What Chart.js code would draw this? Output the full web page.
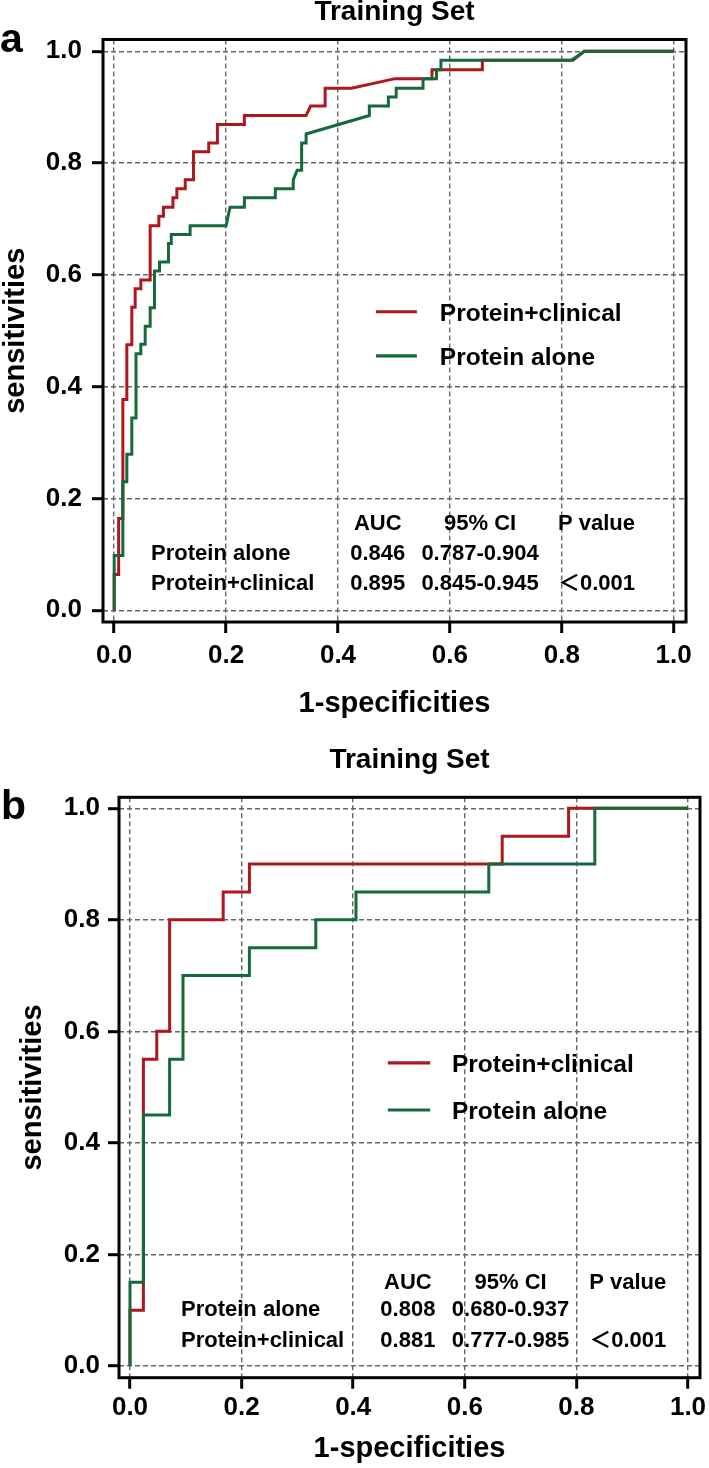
<!DOCTYPE html>
<html>
<head>
<meta charset="utf-8">
<script src="https://cdn.jsdelivr.net/npm/chart.js@4.4.1/dist/chart.umd.min.js"></script>
<style>
  html, body { margin: 0; padding: 0; background: #ffffff; }
  #wrap { position: relative; width: 709px; height: 1468px; overflow: hidden; }
  canvas { position: absolute; left: 0; display: block; }
</style>
</head>
<body>
<div id="wrap">
  <canvas id="chartA" width="709" height="735" style="top:0px"></canvas>
  <canvas id="chartB" width="709" height="733" style="top:735px"></canvas>
</div>
<script>
// ---------------- DATA ----------------
const seriesNames = ['Protein+clinical', 'Protein alone'];
const chartTitle = 'Training Set';
const xAxisTitle = '1-specificities';
const yAxisTitle = 'sensitivities';
const xTickValues = [0, 0.2, 0.4, 0.6, 0.8, 1.0];
const xTickLabels = ['0.0', '0.2', '0.4', '0.6', '0.8', '1.0'];
const yTickValues = [0, 0.2, 0.4, 0.6, 0.8, 1.0];
const yTickLabels = ['0.0', '0.2', '0.4', '0.6', '0.8', '1.0'];

// Panel a: Protein+clinical (1-specificity, sensitivity)
const aClinX = [0, 0, 0.008, 0.008, 0.0155, 0.0155, 0.0226, 0.0226, 0.0315, 0.0315, 0.0375, 0.0375, 0.0476, 0.0476,
  0.0643, 0.0643, 0.0798, 0.0798, 0.088, 0.088, 0.105, 0.105, 0.112, 0.112, 0.127, 0.127, 0.1417, 0.1417,
  0.169, 0.169, 0.1845, 0.1845, 0.2327, 0.2327, 0.343, 0.351, 0.377, 0.377, 0.424, 0.502, 0.568, 0.568,
  0.658, 0.658, 0.82, 0.84, 1.0];
const aClinY = [0, 0.064, 0.064, 0.164, 0.164, 0.377, 0.377, 0.475, 0.475, 0.542, 0.542, 0.575, 0.575, 0.591,
  0.591, 0.688, 0.688, 0.705, 0.705, 0.721, 0.721, 0.738, 0.738, 0.754, 0.754, 0.770, 0.770, 0.820,
  0.820, 0.836, 0.836, 0.869, 0.869, 0.885, 0.885, 0.902, 0.902, 0.934, 0.934, 0.951, 0.951, 0.967,
  0.967, 0.984, 0.984, 1.0, 1.0];
// Panel a: Protein alone
const aAloneX = [0, 0, 0.0155, 0.0155, 0.0226, 0.0226, 0.0315, 0.0315, 0.039, 0.039, 0.0476, 0.0476, 0.0554, 0.0554,
  0.0643, 0.0643, 0.072, 0.072, 0.081, 0.081, 0.097, 0.097, 0.102, 0.102, 0.1357, 0.1357, 0.2, 0.207,
  0.2327, 0.2327, 0.288, 0.288, 0.32, 0.32, 0.327, 0.335, 0.335, 0.343, 0.343, 0.456, 0.456, 0.49, 0.49,
  0.504, 0.504, 0.552, 0.552, 0.576, 0.576, 0.584, 0.584, 0.817, 0.841, 1.0];
const aAloneY = [0, 0.098, 0.098, 0.230, 0.230, 0.279, 0.279, 0.344, 0.344, 0.459, 0.459, 0.476, 0.476, 0.508,
  0.508, 0.541, 0.541, 0.607, 0.607, 0.623, 0.623, 0.656, 0.656, 0.672, 0.672, 0.688, 0.688, 0.721,
  0.721, 0.738, 0.738, 0.754, 0.754, 0.770, 0.787, 0.787, 0.836, 0.836, 0.852, 0.885, 0.902, 0.902, 0.918,
  0.918, 0.934, 0.934, 0.951, 0.951, 0.967, 0.967, 0.984, 0.984, 1.0, 1.0];

// Panel b: Protein+clinical
const bClinX = [0, 0, 0.024, 0.024, 0.048, 0.048, 0.071, 0.071, 0.167, 0.167, 0.214, 0.214, 0.667, 0.667, 0.786, 0.786, 1.0];
const bClinY = [0, 0.10, 0.10, 0.55, 0.55, 0.60, 0.60, 0.80, 0.80, 0.85, 0.85, 0.90, 0.90, 0.95, 0.95, 1.0, 1.0];
// Panel b: Protein alone
const bAloneX = [0, 0, 0.024, 0.024, 0.071, 0.071, 0.095, 0.095, 0.214, 0.214, 0.333, 0.333, 0.405, 0.405, 0.643, 0.643, 0.833, 0.833, 1.0];
const bAloneY = [0, 0.15, 0.15, 0.45, 0.45, 0.55, 0.55, 0.70, 0.70, 0.75, 0.75, 0.80, 0.80, 0.85, 0.85, 0.90, 0.90, 1.0, 1.0];

// Statistics tables
const tableHeader = ['AUC', '95% CI', 'P value'];
const tableRowNames = ['Protein alone', 'Protein+clinical'];
const aAUC = ['0.846', '0.895'];
const aCI = ['0.787-0.904', '0.845-0.945'];
const aP = ['', '＜0.001'];
const bAUC = ['0.808', '0.881'];
const bCI = ['0.680-0.937', '0.777-0.985'];
const bP = ['', '＜0.001'];

// ---------------- STYLE ----------------
const FAMILY = '"Liberation Sans", Arial, "Noto Sans CJK SC", sans-serif';
const seriesColors = ['#B0161D', '#15693A'];
const GRID_COLOR = '#666666';

function toPts(xs, ys) { return xs.map((x, i) => ({ x: x, y: ys[i] })); }

function makeDecor(p) {
  return {
    id: 'decor',
    afterDatasetsDraw(chart) {
      const { ctx, chartArea: ca } = chart;
      const x = chart.scales.x, y = chart.scales.y;
      ctx.save();
      // frame box
      ctx.setLineDash([]);
      ctx.strokeStyle = '#000';
      ctx.lineWidth = 3;
      ctx.strokeRect(ca.left, ca.top, ca.right - ca.left, ca.bottom - ca.top);

      // legend
      ctx.textAlign = 'left';
      ctx.textBaseline = 'alphabetic';
      ctx.font = 'bold ' + p.legendFont + 'px ' + FAMILY;
      p.legendY.forEach((ly, i) => {
        const py = y.getPixelForValue(ly);
        ctx.strokeStyle = seriesColors[i];
        ctx.lineWidth = 3.2;
        ctx.beginPath();
        ctx.moveTo(x.getPixelForValue(p.legendLineX[0]), py);
        ctx.lineTo(x.getPixelForValue(p.legendLineX[1]), py);
        ctx.stroke();
        ctx.fillStyle = '#000';
        ctx.fillText(seriesNames[i], x.getPixelForValue(p.legendTextX), py + 0.358 * p.legendFont);
      });

      // statistics table
      const tf = p.tableFont;
      ctx.font = 'bold ' + tf + 'px ' + FAMILY;
      ctx.fillStyle = '#000';
      const base = v => y.getPixelForValue(v) + 0.358 * tf;
      ctx.textAlign = 'center';
      tableHeader.forEach((h, j) => ctx.fillText(h, x.getPixelForValue(p.colX[j]), base(p.headerY)));
      tableRowNames.forEach((name, i) => {
        const by = base(p.rowY[i]);
        ctx.textAlign = 'left';
        ctx.fillText(name, x.getPixelForValue(p.rowNameX), by);
        ctx.textAlign = 'center';
        ctx.fillText(p.auc[i], x.getPixelForValue(p.colX[0]), by);
        ctx.fillText(p.ci[i], x.getPixelForValue(p.colX[1]), by);
        if (p.pv[i]) ctx.fillText(p.pv[i], x.getPixelForValue(p.colX[2]), by);
      });

      // panel letter
      ctx.textAlign = 'left';
      ctx.font = 'bold 41px ' + FAMILY;
      ctx.fillText(p.letter, p.letterX, p.letterY);
      ctx.restore();
    }
  };
}

function makeChart(canvasId, p) {
  const tickFont = { family: FAMILY, size: 26, weight: 'bold', lineHeight: 1.2 };
  const titleFont = { family: FAMILY, size: 29, weight: 'bold', lineHeight: 1.1 };
  const gridOpts = {
    color: GRID_COLOR, lineWidth: 1.4, drawTicks: true, tickLength: 11,
    tickColor: '#000', tickWidth: 3, tickBorderDash: [], borderDash: [5, 3], offset: false
  };
  return new Chart(document.getElementById(canvasId), {
    type: 'line',
    data: {
      datasets: [
        { label: seriesNames[0], data: toPts(p.clinX, p.clinY), borderColor: seriesColors[0],
          borderWidth: 3, pointRadius: 0, tension: 0, fill: false, order: 1 },
        { label: seriesNames[1], data: toPts(p.aloneX, p.aloneY), borderColor: seriesColors[1],
          borderWidth: 3, pointRadius: 0, tension: 0, fill: false, order: 0 }
      ]
    },
    options: {
      responsive: false, animation: false, devicePixelRatio: 1, events: [],
      layout: { padding: { left: 0, top: 0, right: p.padRight, bottom: 0 } },
      plugins: {
        legend: { display: false },
        tooltip: { enabled: false },
        title: {
          display: true, text: chartTitle, fullSize: false, color: '#000',
          font: { family: FAMILY, size: 28, weight: 'bold', lineHeight: 0.9 },
          padding: { top: p.titlePadTop, bottom: p.titlePadBottom }
        }
      },
      scales: {
        x: {
          type: 'linear', min: p.xMin, max: p.xMax,
          afterBuildTicks: s => { s.ticks = xTickValues.map(v => ({ value: v })); },
          afterFit: s => { s.height = p.xAxisHeight; s.paddingLeft = 0; s.paddingRight = 0; },
          ticks: { callback: (v, i) => xTickLabels[i], color: '#000', font: tickFont,
                   padding: p.xTickPad, maxRotation: 0, minRotation: 0, autoSkip: false },
          grid: gridOpts,
          border: { display: false, dash: [5, 3] },
          title: { display: true, text: xAxisTitle, color: '#000', font: titleFont,
                   padding: { top: 0, bottom: p.xTitlePadBottom } }
        },
        y: {
          type: 'linear', min: p.yMin, max: p.yMax,
          afterBuildTicks: s => { s.ticks = yTickValues.map(v => ({ value: v })); },
          afterFit: s => { s.width = p.yAxisWidth; s.paddingTop = 0; s.paddingBottom = 0; },
          ticks: { callback: (v, i) => yTickLabels[i], color: '#000', font: tickFont,
                   padding: p.yTickPad, autoSkip: false },
          grid: gridOpts,
          border: { display: false, dash: [5, 3] },
          title: { display: true, text: yAxisTitle, color: '#000', font: titleFont,
                   padding: { top: p.yTitlePadTop, bottom: 0 } }
        }
      }
    },
    plugins: [makeDecor(p)]
  });
}

makeChart('chartA', {
  clinX: aClinX, clinY: aClinY, aloneX: aAloneX, aloneY: aAloneY,
  auc: aAUC, ci: aCI, pv: aP,
  padRight: 23, titlePadTop: 0, titlePadBottom: 14.3,
  xMin: -0.02, xMax: 1.022, yMin: -0.021, yMax: 1.021,
  xAxisHeight: 113, yAxisWidth: 103,
  xTickPad: 7.4, yTickPad: 10, xTitlePadBottom: 15, yTitlePadTop: 0,
  legendY: [0.534, 0.455], legendLineX: [0.468, 0.541], legendTextX: 0.582, legendFont: 24.5,
  tableFont: 22, headerY: 0.158, rowY: [0.1033, 0.0495], rowNameX: 0.066, colX: [0.471, 0.654, 0.862],
  letter: 'a', letterX: 0, letterY: 52
});

makeChart('chartB', {
  clinX: bClinX, clinY: bClinY, aloneX: bAloneX, aloneY: bAloneY,
  auc: bAUC, ci: bCI, pv: bP,
  padRight: 9, titlePadTop: 12.7, titlePadBottom: 24.4,
  xMin: -0.0197, xMax: 1.0215, yMin: -0.021, yMax: 1.0197,
  xAxisHeight: 90.3, yAxisWidth: 119,
  xTickPad: 3.7, yTickPad: 8, xTitlePadBottom: 3.5, yTitlePadTop: 17,
  legendY: [0.5435, 0.459], legendLineX: [0.462, 0.538], legendTextX: 0.577, legendFont: 24.5,
  tableFont: 22, headerY: 0.152, rowY: [0.104, 0.048], rowNameX: 0.0914, colX: [0.498, 0.682, 0.892],
  letter: 'b', letterX: 1, letterY: 84
});
</script>
</body>
</html>
